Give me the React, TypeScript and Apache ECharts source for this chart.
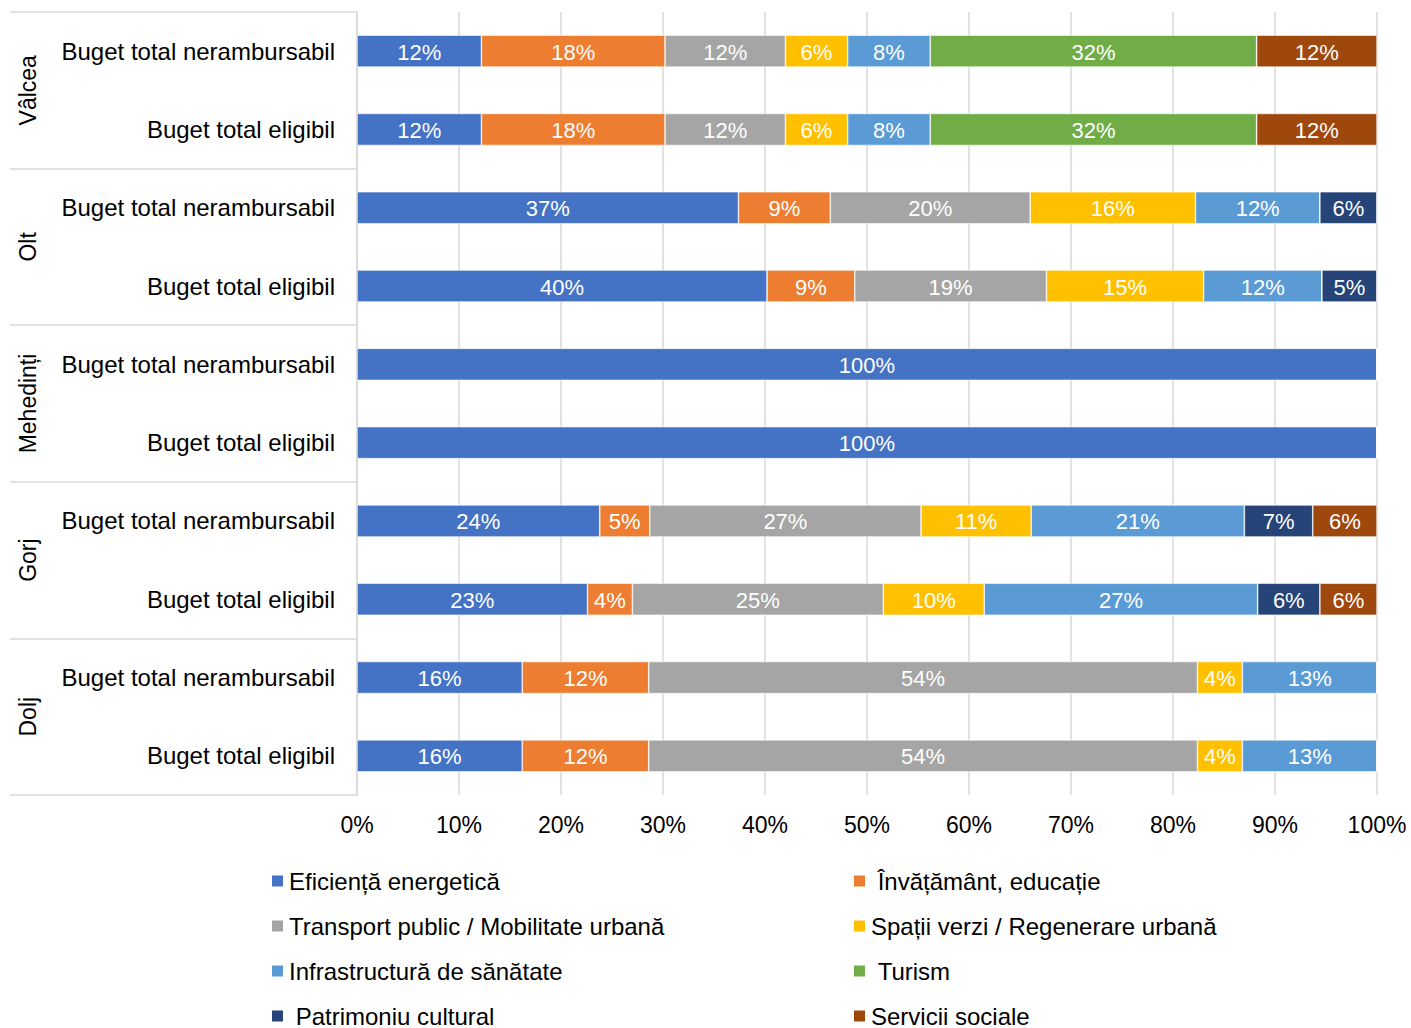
import React, { useEffect, useRef } from "react";
import * as echarts from "echarts";

const counties = ["Vâlcea", "Olt", "Mehedinți", "Gorj", "Dolj"];
const budgetTypes = ["Buget total nerambursabil", "Buget total eligibil"];
const xTicks = [0, 10, 20, 30, 40, 50, 60, 70, 80, 90, 100];

const seriesNames = [
  "Eficiență energetică",
  "Învățământ, educație",
  "Transport public / Mobilitate urbană",
  "Spații verzi / Regenerare urbană",
  "Infrastructură de sănătate",
  "Turism",
  "Patrimoniu cultural",
  "Servicii sociale",
];
const colors = ["#4472C4", "#ED7D31", "#A5A5A5", "#FFC000", "#5B9BD5", "#70AD47", "#264478", "#9E480E"];

// rows: Vâlcea n, Vâlcea e, Olt n, Olt e, Mehedinți n, Mehedinți e, Gorj n, Gorj e, Dolj n, Dolj e
const eficienta = [12.2, 12.2, 37.4, 40.2, 100, 100, 23.8, 22.6, 16.2, 16.2];
const invatamant = [18.0, 18.0, 9.0, 8.6, 0, 0, 4.9, 4.4, 12.4, 12.4];
const transport = [11.8, 11.8, 19.6, 18.8, 0, 0, 26.6, 24.6, 53.8, 53.8];
const spatiiVerzi = [6.1, 6.1, 16.2, 15.4, 0, 0, 10.8, 9.9, 4.4, 4.4];
const infrastructura = [8.1, 8.1, 12.2, 11.6, 0, 0, 20.9, 26.8, 13.2, 13.2];
const turism = [32.0, 32.0, 0, 0, 0, 0, 0, 0, 0, 0];
const patrimoniu = [0, 0, 5.6, 5.4, 0, 0, 6.7, 6.1, 0, 0];
const serviciiSociale = [11.8, 11.8, 0, 0, 0, 0, 6.3, 5.6, 0, 0];

const seriesValues = [eficienta, invatamant, transport, spatiiVerzi, infrastructura, turism, patrimoniu, serviciiSociale];
const paddedLegend = ["Învățământ, educație", "Turism", "Patrimoniu cultural"];

const rows = counties.flatMap((c) => budgetTypes.map((b) => `${c}|${b}`));

const FONT = "'Liberation Sans', Arial, sans-serif";

export default function App() {
  const ref = useRef<HTMLDivElement>(null);
  useEffect(() => {
    if (!ref.current) return;
    const chart = echarts.init(ref.current, undefined, { renderer: "svg" });
    const legendFormatter = (name: string) => (paddedLegend.includes(name) ? "\u00a0" + name : name);
    const legendCommon = {
      orient: "vertical",
      top: 869,
      height: 220,
      padding: 0,
      itemWidth: 13,
      itemHeight: 13,
      itemGap: 21,
      icon: "rect",
      formatter: legendFormatter,
      textStyle: { fontFamily: FONT, fontSize: 24, color: "#000" },
    };
    chart.setOption({
      animation: false,
      color: colors,
      textStyle: { fontFamily: FONT },
      grid: { left: 357, right: 34, top: 12, bottom: 233, containLabel: false },
      legend: [
        { ...legendCommon, left: 270, data: [seriesNames[0], seriesNames[2], seriesNames[4], seriesNames[6]] },
        { ...legendCommon, left: 852, data: [seriesNames[1], seriesNames[3], seriesNames[5], seriesNames[7]] },
      ],
      xAxis: {
        type: "value",
        min: xTicks[0],
        max: xTicks[xTicks.length - 1],
        interval: 10,
        axisLine: { show: false },
        axisTick: { show: false },
        axisLabel: { formatter: "{value}%", fontSize: 23, color: "#000", margin: 18, fontFamily: FONT },
        splitLine: { show: true, lineStyle: { color: "#D9D9D9", width: 1.5 } },
      },
      yAxis: [
        {
          type: "category",
          data: rows,
          inverse: true,
          position: "left",
          axisLine: { show: false },
          axisTick: { show: false },
          axisLabel: {
            formatter: (v: string) => v.split("|")[1],
            fontSize: 24,
            color: "#000",
            margin: 22,
            fontFamily: FONT,
          },
        },
        {
          type: "category",
          data: counties,
          inverse: true,
          position: "left",
          offset: 0,
          axisLine: { show: true, lineStyle: { color: "#D9D9D9", width: 1.5 } },
          axisTick: { show: true, length: 347, lineStyle: { color: "#D9D9D9", width: 1.5 } },
          axisLabel: { rotate: 90, fontSize: 23, color: "#000", margin: 318, fontFamily: FONT },
        },
      ],
      series: seriesNames.map((name, i) => ({
        name,
        type: "bar",
        stack: "total",
        yAxisIndex: 0,
        barWidth: 32,
        itemStyle: { color: colors[i], borderColor: "#ffffff", borderWidth: 0.6 },
        label: {
          show: true,
          position: "inside",
          color: "#fff",
          fontSize: 22,
          fontFamily: FONT,
          offset: [0, 1],
          formatter: (p: any) => (p.value > 0 ? `${Math.round(p.value)}%` : ""),
        },
        data: seriesValues[i],
      })),
    });
    return () => chart.dispose();
  }, []);
  return <div ref={ref} style={{ position: "fixed", left: 0, top: 0, width: 1411, height: 1028, background: "#fff" }} />;
}
